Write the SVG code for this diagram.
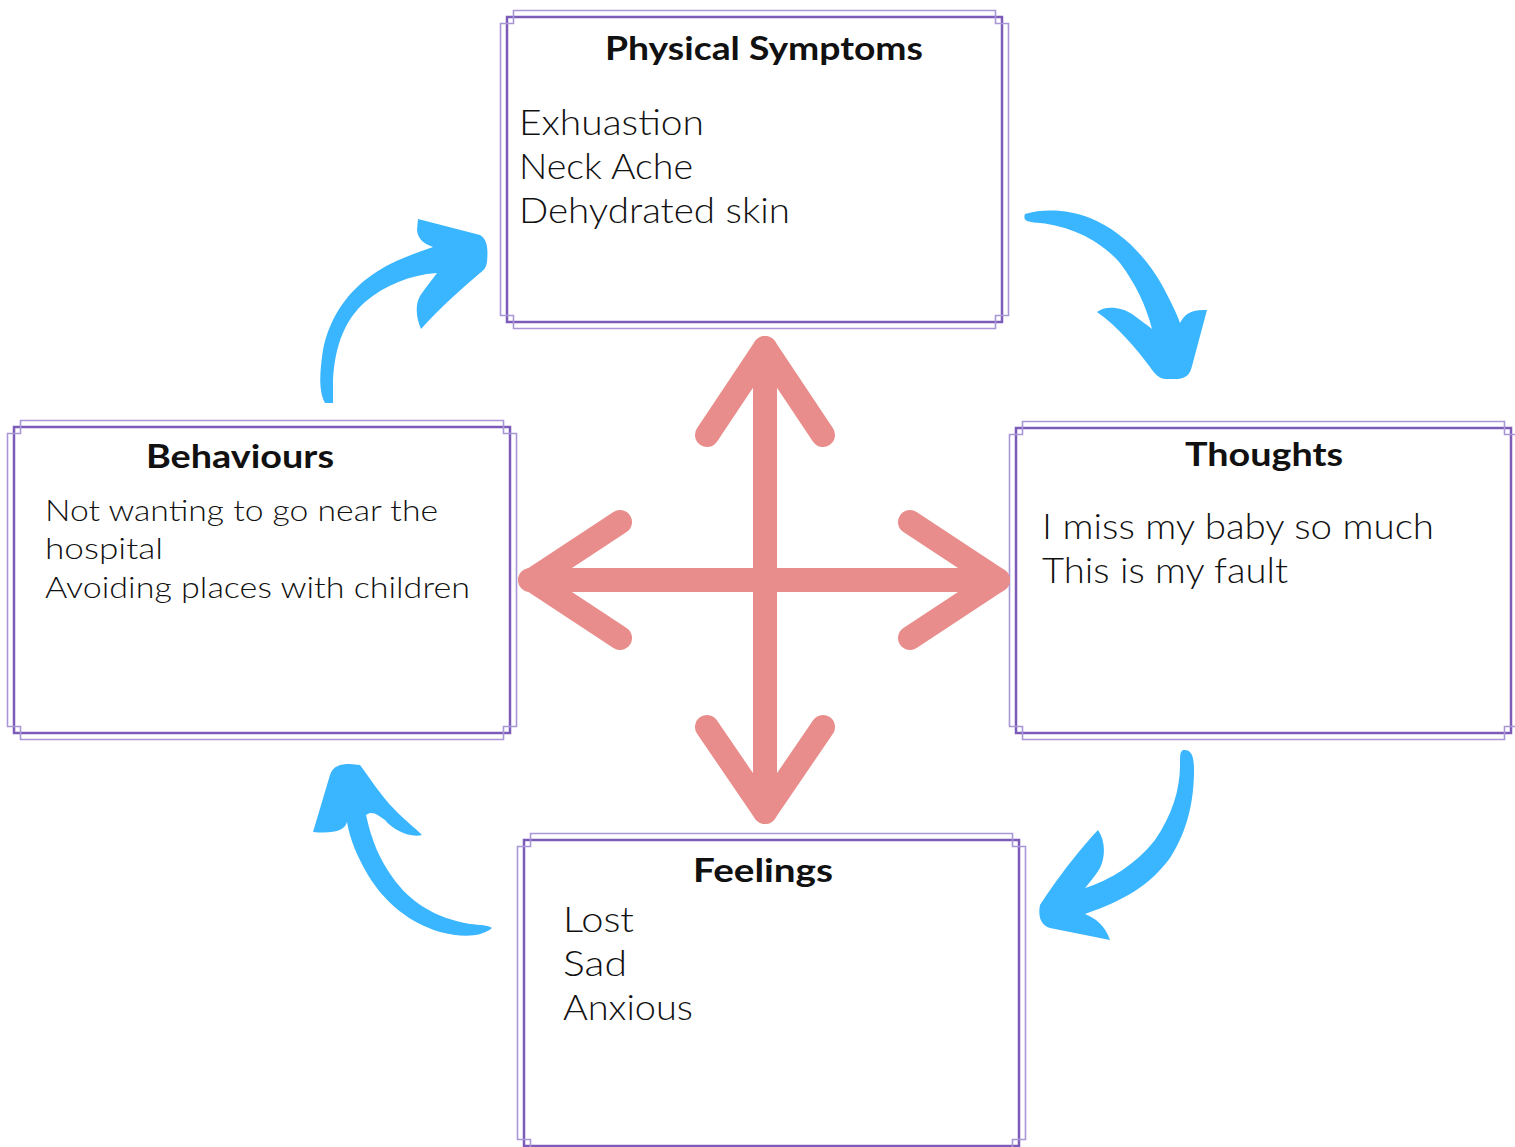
<svg xmlns="http://www.w3.org/2000/svg" width="1515" height="1147" viewBox="0 0 1515 1147">
<defs>
<style>
.inner{fill:#fff;stroke:#7d5cb9;stroke-width:2.5}
.outer{fill:none;stroke:#a896d6;stroke-width:1.6}
.title{font-family:Lato,"Open Sans","Noto Sans",sans-serif;font-weight:700;font-size:33px;fill:#111}
.body{font-family:Lato,"Open Sans","Noto Sans",sans-serif;font-weight:300;font-size:35px;fill:#111}
.small{font-size:29px}
.pink{fill:none;stroke:#e88d8b;stroke-width:24;stroke-linecap:round;stroke-linejoin:round}
.blue{fill:#39b6ff;stroke:none}
</style>
</defs>
<rect width="1515" height="1147" fill="#fff"/>

<g id="node-physical">
<rect class="inner" x="507" y="17" width="495" height="305"/>
<path class="outer" d="M513.5,10.5H995.5V23.5H1008.5V315.5H995.5V328.5H513.5V315.5H500.5V23.5H513.5Z"/>
<text class="title" x="764" y="60" text-anchor="middle" textLength="318" lengthAdjust="spacingAndGlyphs">Physical Symptoms</text>
<text class="body" x="519" y="135" textLength="185" lengthAdjust="spacingAndGlyphs">Exhuastion</text>
<text class="body" x="519" y="179" textLength="174" lengthAdjust="spacingAndGlyphs">Neck Ache</text>
<text class="body" x="519" y="223" textLength="271" lengthAdjust="spacingAndGlyphs">Dehydrated skin</text>
</g>

<g id="node-behaviours">
<rect class="inner" x="14" y="427" width="496" height="306"/>
<path class="outer" d="M20.5,420.5H503.5V433.5H516.5V726.5H503.5V739.5H20.5V726.5H7.5V433.5H20.5Z"/>
<text class="title" x="240" y="468" text-anchor="middle" textLength="188" lengthAdjust="spacingAndGlyphs">Behaviours</text>
<text class="body small" x="45" y="521" textLength="393" lengthAdjust="spacingAndGlyphs">Not wanting to go near the</text>
<text class="body small" x="45" y="559" textLength="118" lengthAdjust="spacingAndGlyphs">hospital</text>
<text class="body small" x="45" y="598" textLength="425" lengthAdjust="spacingAndGlyphs">Avoiding places with children</text>
</g>

<g id="node-thoughts">
<rect class="inner" x="1016" y="428" width="495" height="305"/>
<path class="outer" d="M1022.5,421.5H1504.5V434.5H1517.5V726.5H1504.5V739.5H1022.5V726.5H1009.5V434.5H1022.5Z"/>
<text class="title" x="1264" y="466" text-anchor="middle" textLength="158" lengthAdjust="spacingAndGlyphs">Thoughts</text>
<text class="body" x="1042" y="539" textLength="392" lengthAdjust="spacingAndGlyphs">I miss my baby so much</text>
<text class="body" x="1042" y="583" textLength="246" lengthAdjust="spacingAndGlyphs">This is my fault</text>
</g>

<g id="node-feelings">
<rect class="inner" x="524" y="840" width="495" height="306"/>
<path class="outer" d="M530.5,833.5H1012.5V846.5H1025.5V1139.5H1012.5V1152.5H530.5V1139.5H517.5V846.5H530.5Z"/>
<text class="title" x="763" y="882" text-anchor="middle" textLength="140" lengthAdjust="spacingAndGlyphs">Feelings</text>
<text class="body" x="563" y="932" textLength="71" lengthAdjust="spacingAndGlyphs">Lost</text>
<text class="body" x="563" y="976" textLength="64" lengthAdjust="spacingAndGlyphs">Sad</text>
<text class="body" x="563" y="1020" textLength="130" lengthAdjust="spacingAndGlyphs">Anxious</text>
</g>

<g id="connectors">
<path class="pink" d="M765,348V812M530,580H998"/>
<path class="pink" d="M707,435L765,348L823,435"/>
<path class="pink" d="M707,727L765,812L823,727"/>
<path class="pink" d="M620,522L532,580L620,638"/>
<path class="pink" d="M910,522L998,580L910,638"/>

<path class="blue" d="M1025,214C1045,208 1070,210 1090,218C1120,230 1145,255 1162,285C1170,300 1176,312 1180,323C1184,315 1190,309 1207,310L1192,366C1190,375 1186,378 1178,379L1165,379C1158,378 1155,374 1150,367C1135,347 1118,327 1097,312C1105,305 1122,307 1132,314C1140,320 1147,325 1152,329C1146,305 1135,283 1120,263C1100,240 1070,226 1040,223C1030,222 1022,222 1025,214Z"/>

<path class="blue" d="M325,403C318,390 320,370 323,350C330,315 350,290 372,275C390,262 410,255 433,247C425,244 418,240 417,230L418,219L480,235C488,240 488,250 487,262C486,268 484,270 480,273C460,290 440,308 421,329C416,318 415,305 420,296C426,287 432,280 437,273C410,275 385,285 365,302C345,320 335,345 333,380L333,403Z"/>

<path class="blue" d="M1183,750C1191,749 1194,755 1194,770C1194,800 1188,830 1170,858C1150,885 1125,900 1085,914C1095,918 1105,925 1110,940L1050,928C1040,925 1038,915 1040,905C1050,890 1070,860 1098,830C1105,840 1106,855 1100,868C1095,876 1090,882 1085,888C1110,880 1135,865 1155,840C1172,815 1180,790 1180,765C1180,755 1180,752 1183,750Z"/>

<path class="blue" d="M492,928C480,938 460,937 440,932C410,923 385,903 368,875C358,858 350,840 347,822C345,830 335,834 313,832L330,775C333,766 340,764 350,764L360,765C368,775 380,795 395,810C405,820 415,828 422,835C410,838 393,830 385,820C378,815 372,810 366,815C372,842 380,860 393,878C410,902 435,918 470,924C480,925 488,925 492,928Z"/>
</g>
</svg>
